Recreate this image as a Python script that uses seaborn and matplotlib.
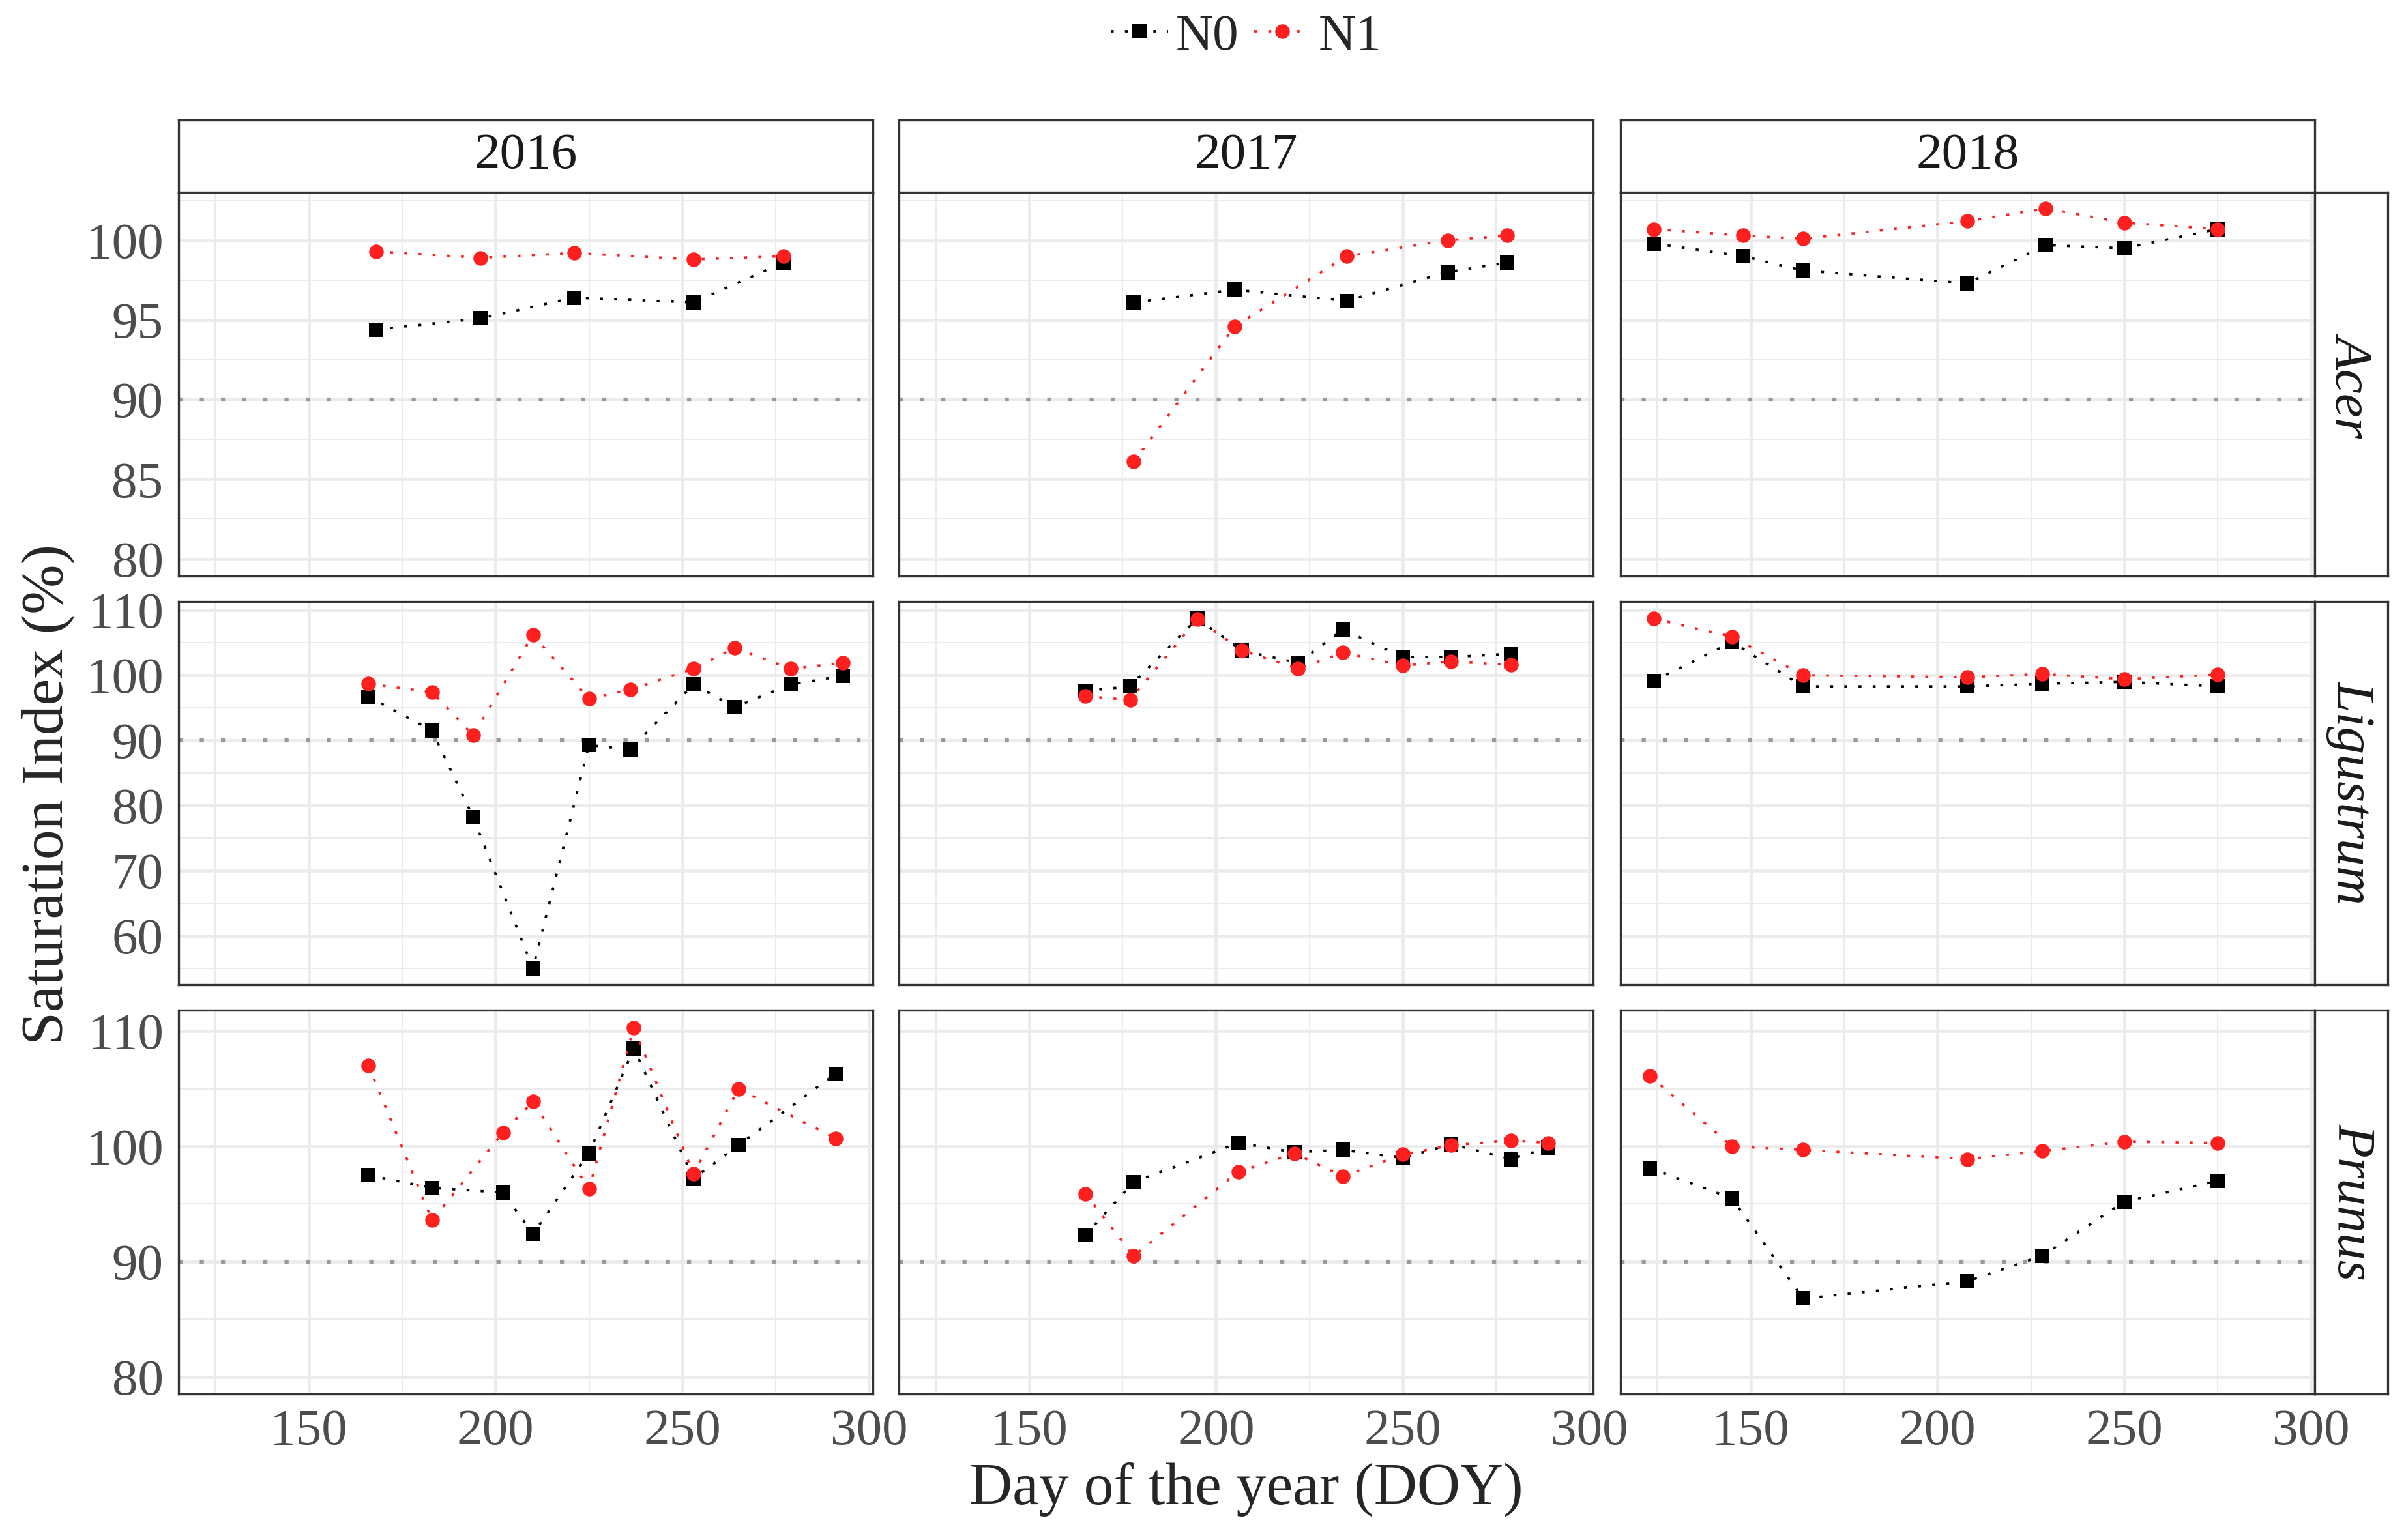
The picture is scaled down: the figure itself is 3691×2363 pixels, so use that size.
import matplotlib
matplotlib.use('Agg')
import pandas as pd
import matplotlib.pyplot as plt
import seaborn as sns
from matplotlib.lines import Line2D

# --- data ---
years = ['2016', '2017', '2018']
species = ['Acer', 'Ligustrum', 'Prunus']
treatments = ['N0', 'N1']

# Acer
acer_2016_doy = [168, 196, 221, 253, 277]
acer_2016_n0 = [94.4, 95.1, 96.4, 96.1, 98.6]
acer_2016_n1 = [99.3, 98.9, 99.2, 98.8, 99.0]

acer_2017_doy = [178, 205, 235, 262, 278]
acer_2017_n0 = [96.1, 96.9, 96.2, 98.0, 98.6]
acer_2017_n1 = [86.1, 94.6, 99.0, 100.0, 100.3]

acer_2018_doy = [124, 148, 164, 208, 229, 250, 275]
acer_2018_n0 = [99.8, 99.0, 98.1, 97.3, 99.7, 99.5, 100.7]
acer_2018_n1 = [100.7, 100.3, 100.1, 101.2, 102.0, 101.1, 100.7]

# Ligustrum
lig_2016_doy = [166, 183, 194, 210, 225, 236, 253, 264, 279, 293]
lig_2016_n0 = [96.7, 91.5, 78.2, 55.0, 89.3, 88.6, 98.6, 95.1, 98.6, 99.9]
lig_2016_n1 = [98.7, 97.4, 90.8, 106.2, 96.4, 97.8, 101.0, 104.2, 101.0, 101.9]

lig_2017_doy = [165, 177, 195, 207, 222, 234, 250, 263, 279]
lig_2017_n0 = [97.6, 98.3, 108.7, 103.8, 101.9, 107.0, 102.8, 102.8, 103.3]
lig_2017_n1 = [96.8, 96.2, 108.6, 103.8, 101.0, 103.5, 101.5, 102.1, 101.6]

lig_2018_doy = [124, 145, 164, 208, 228, 250, 275]
lig_2018_n0 = [99.1, 105.1, 98.3, 98.3, 98.7, 99.0, 98.3]
lig_2018_n1 = [108.7, 105.9, 100.0, 99.7, 100.2, 99.4, 100.1]

# Prunus
pru_2016_doy = [166, 183, 202, 210, 225, 237, 253, 265, 291]
pru_2016_n0 = [97.5, 96.4, 96.0, 92.4, 99.4, 108.5, 97.2, 100.1, 106.3]
pru_2016_n1 = [107.0, 93.6, 101.2, 103.9, 96.3, 110.3, 97.6, 105.0, 100.7]

pru_2017_doy = [165, 178, 206, 221, 234, 250, 263, 279, 289]
pru_2017_n0 = [92.3, 96.9, 100.3, 99.5, 99.7, 99.0, 100.2, 98.9, 99.9]
pru_2017_n1 = [95.9, 90.5, 97.8, 99.4, 97.4, 99.3, 100.1, 100.5, 100.3]

pru_2018_doy = [123, 145, 164, 208, 228, 250, 275]
pru_2018_n0 = [98.1, 95.5, 86.8, 88.3, 90.5, 95.2, 97.0]
pru_2018_n1 = [106.1, 100.0, 99.7, 98.9, 99.6, 100.4, 100.3]

panels = {
    ('Acer', '2016'): (acer_2016_doy, acer_2016_n0, acer_2016_n1),
    ('Acer', '2017'): (acer_2017_doy, acer_2017_n0, acer_2017_n1),
    ('Acer', '2018'): (acer_2018_doy, acer_2018_n0, acer_2018_n1),
    ('Ligustrum', '2016'): (lig_2016_doy, lig_2016_n0, lig_2016_n1),
    ('Ligustrum', '2017'): (lig_2017_doy, lig_2017_n0, lig_2017_n1),
    ('Ligustrum', '2018'): (lig_2018_doy, lig_2018_n0, lig_2018_n1),
    ('Prunus', '2016'): (pru_2016_doy, pru_2016_n0, pru_2016_n1),
    ('Prunus', '2017'): (pru_2017_doy, pru_2017_n0, pru_2017_n1),
    ('Prunus', '2018'): (pru_2018_doy, pru_2018_n0, pru_2018_n1),
}

records = []
for (sp, yr), (doy, n0, n1) in panels.items():
    for d, a, b in zip(doy, n0, n1):
        records.append({'species': sp, 'year': yr, 'doy': d, 'trt': 'N0', 'si': a})
        records.append({'species': sp, 'year': yr, 'doy': d, 'trt': 'N1', 'si': b})
df = pd.DataFrame(records)

# per-row y axes (free scales)
row_ylim = [(78.93, 103.0), (52.5, 111.34), (78.53, 111.8)]
row_yticks = [[80, 85, 90, 95, 100], [60, 70, 80, 90, 100, 110], [80, 90, 100, 110]]
row_yminor = [[82.5, 87.5, 92.5, 97.5, 102.5], [55, 65, 75, 85, 95, 105], [85, 95, 105]]
x_ticks = [150, 200, 250, 300]
x_minor = [125, 175, 225, 275]

# --- styling ---
sns.set_style('white')
plt.rcParams['font.family'] = ['Liberation Serif', 'DejaVu Serif']

palette = {'N0': 'black', 'N1': '#FF1F1F'}
markers = {'N0': 's', 'N1': 'o'}
dashes = {'N0': (1.2, 4.6), 'N1': (1.2, 4.6)}
dark = '#333333'
grid_col = '#EBEBEB'

fig = plt.figure(figsize=(3691 / 300, 2363 / 300), dpi=300)

col_left = [0.0741, 0.3735, 0.6734]
panel_w = 0.2887
row_bottom = [0.6260, 0.3605, 0.0949]
panel_h = 0.2490

for r, sp in enumerate(species):
    for c, yr in enumerate(years):
        ax = fig.add_axes([col_left[c], row_bottom[r], panel_w, panel_h])
        sub = df[(df['species'] == sp) & (df['year'] == yr)]

        # grid
        for v in row_yminor[r]:
            ax.axhline(v, color=grid_col, lw=0.5, zorder=0)
        for v in row_yticks[r]:
            ax.axhline(v, color=grid_col, lw=1.1, zorder=0)
        for v in x_minor:
            ax.axvline(v, color=grid_col, lw=0.5, zorder=0)
        for v in x_ticks:
            ax.axvline(v, color=grid_col, lw=1.1, zorder=0)

        ax.axhline(90, color='#9A9A9A', lw=1.5, linestyle=(0, (1.0, 4.2)), zorder=1)

        sns.lineplot(data=sub, x='doy', y='si', hue='trt', style='trt',
                     hue_order=treatments, style_order=treatments,
                     palette=palette, markers=markers, dashes=dashes,
                     lw=0.9, markersize=5.4, markeredgewidth=0,
                     legend=False, ax=ax, zorder=3)

        ax.set_xlim(115.06, 301.0)
        ax.set_ylim(*row_ylim[r])
        ax.set_xticks(x_ticks)
        ax.set_yticks(row_yticks[r])
        ax.set_xlabel('')
        ax.set_ylabel('')
        for s in ax.spines.values():
            s.set_color(dark)
            s.set_linewidth(0.8)
            s.set_visible(True)
        ax.tick_params(axis='both', colors=dark, length=3.5, width=0.8,
                       labelsize=19, labelcolor='#4D4D4D', pad=2)
        if c != 0:
            ax.tick_params(axis='y', left=False, labelleft=False)
        if r != 2:
            ax.tick_params(axis='x', bottom=False, labelbottom=False)

        # top strips
        if r == 0:
            st = fig.add_axes([col_left[c], row_bottom[0] + panel_h, panel_w, 0.0472])
            st.set_xticks([])
            st.set_yticks([])
            st.set_facecolor('white')
            for s in st.spines.values():
                s.set_color(dark)
                s.set_linewidth(0.8)
            st.text(0.5, 0.5, yr, ha='center', va='center', fontsize=19,
                    color='#1A1A1A', transform=st.transAxes)

    # right strips
    rs = fig.add_axes([col_left[2] + panel_w, row_bottom[r], 0.0302, panel_h])
    rs.set_xticks([])
    rs.set_yticks([])
    rs.set_facecolor('white')
    for s in rs.spines.values():
        s.set_color(dark)
        s.set_linewidth(0.8)
    rs.text(0.5, 0.5, sp, ha='center', va='center', fontsize=20, style='italic',
            rotation=-90, color='#1A1A1A', transform=rs.transAxes)

# axis titles
fig.text(0.518, 0.033, 'Day of the year (DOY)', ha='center', va='center', fontsize=22)
fig.text(0.020, 0.484, 'Saturation Index (%)', ha='center', va='center',
         rotation=90, fontsize=22)

# legend
handles = [
    Line2D([0], [0], color=palette[t], marker=markers[t], markersize=5.4,
           markeredgewidth=0, lw=0.9, linestyle=(0, dashes[t]))
    for t in treatments
]
fig.legend(handles, treatments, loc='center', bbox_to_anchor=(0.518, 0.976),
           ncol=2, frameon=False, fontsize=19, handlelength=1.1,
           handletextpad=0.15, columnspacing=0.3)

fig.savefig('out.png', dpi=300, facecolor='white')
